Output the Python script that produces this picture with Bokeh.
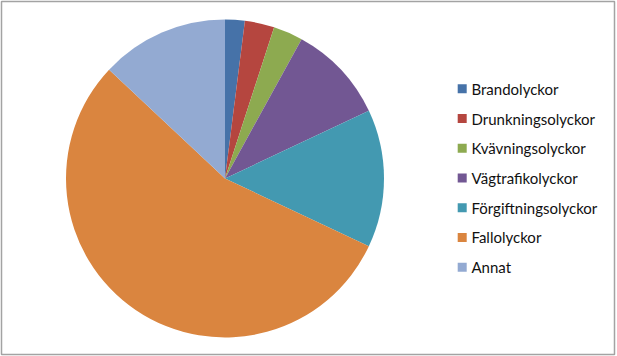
import math
from bokeh.plotting import figure
from bokeh.models import Range1d, ColumnDataSource
from bokeh.core.properties import value
from bokeh.embed import file_html
from bokeh.resources import INLINE

categories = ["Brandolyckor", "Drunkningsolyckor", "Kvävningsolyckor", "Vägtrafikolyckor",
              "Förgiftningsolyckor", "Fallolyckor", "Annat"]
shares = [2, 3, 3, 10, 14, 55, 13]
colors = ["#4672A8", "#B5463F", "#8DAA50", "#725793", "#4399B1", "#DA853F", "#93AAD2"]

total = sum(shares)
starts, ends = [], []
cum = 0
for s in shares:
    starts.append(math.pi / 2 - 2 * math.pi * cum / total)
    cum += s
    ends.append(math.pi / 2 - 2 * math.pi * cum / total)

W, H = 617, 356
p = figure(width=W, height=H, output_backend="svg", toolbar_location=None,
           x_range=Range1d(0, 613), y_range=Range1d(0, 353),
           min_border_left=1, min_border_top=1, min_border_right=3, min_border_bottom=2)
p.axis.visible = False
p.grid.visible = False
p.outline_line_color = "#a3a3a3"
p.outline_line_width = 1.5
p.background_fill_color = "white"
p.border_fill_color = "white"

cx, cy, r = 223.5, 176.0, 159.0
src = ColumnDataSource(dict(cat=categories, start=starts, end=ends, color=colors))
p.wedge(x=cx, y=cy, radius=r, start_angle="start", end_angle="end", direction="clock",
        fill_color="color", line_color=None, source=src)

# legend
row0, pitch = 354 - 88.3, 29.73
ly = [row0 - i * pitch for i in range(len(categories))]
lsrc = ColumnDataSource(dict(y=ly, cat=categories, color=colors,
                             sx=[460.7] * len(categories), tx=[470.0] * len(categories)))
p.scatter(x="sx", y="y", marker="square", size=9, fill_color="color", line_color=None, source=lsrc)
p.text(x="tx", y="y", text="cat", text_font=value("Lato"), text_font_size="15px",
       text_baseline="middle", text_align="left", text_color="#111111", source=lsrc)

open("out.html", "w").write(file_html(p, INLINE))
